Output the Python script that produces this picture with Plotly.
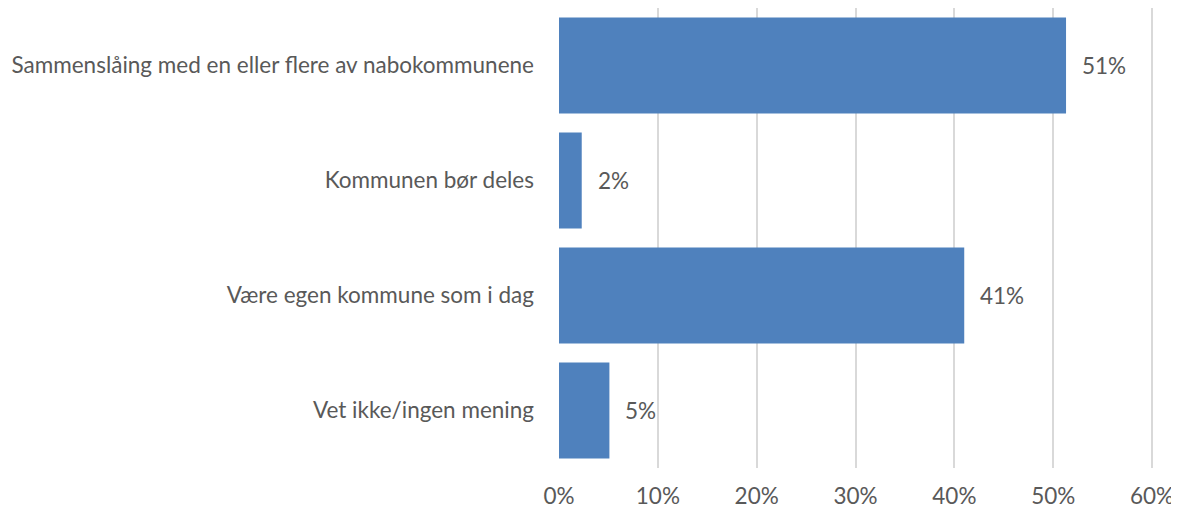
import plotly.graph_objects as go

categories = ["Sammenslåing med en eller flere av nabokommunene",
              "Kommunen bør deles",
              "Være egen kommune som i dag",
              "Vet ikke/ingen mening"]
values = [51.3, 2.3, 41.0, 5.1]
labels = ["51%", "2%", "41%", "5%"]
x_ticks = [0, 10, 20, 30, 40, 50, 60]
x_ticklabels = ["0%", "10%", "20%", "30%", "40%", "50%", "60%"]

font_family = "Lato, 'Open Sans', sans-serif"
text_color = "#595959"
fsize = 22.5

fig = go.Figure(go.Bar(
    x=values, y=categories, orientation="h",
    marker=dict(color="#4F81BD", line=dict(width=0)),
    hoverinfo="skip",
))

for v, c, t in zip(values, categories, labels):
    fig.add_annotation(x=v, y=c, text=t, showarrow=False, xanchor="left",
                       xshift=14, font=dict(size=fsize, color=text_color, family=font_family))

# page body has an 8px default margin, so the figure is offset by 8px
fig.update_layout(
    width=1171, height=501,
    margin=dict(l=551, r=24, t=0, b=41),
    paper_bgcolor="white", plot_bgcolor="white",
    bargap=0.165,
    showlegend=False,
    font=dict(family=font_family, size=fsize, color=text_color),
)
fig.update_xaxes(range=[0, 60.3], tickvals=x_ticks, ticktext=x_ticklabels,
                 showgrid=True, gridcolor="#D9D9D9", gridwidth=1.5,
                 zeroline=False, showline=False, ticks="",
                 ticklabelstandoff=12, automargin=False, fixedrange=True)
fig.update_yaxes(categoryorder="array", categoryarray=categories[::-1],
                 showgrid=False, zeroline=False, showline=False, ticks="",
                 ticklabelstandoff=24, automargin=False, fixedrange=True)

fig.write_html("out.html")
